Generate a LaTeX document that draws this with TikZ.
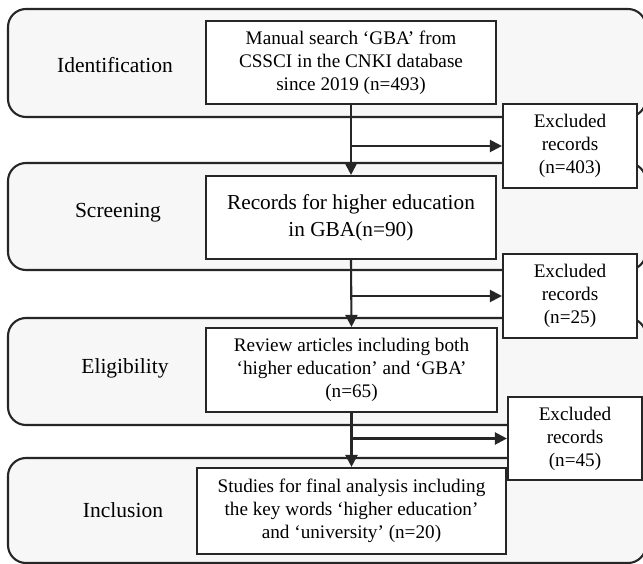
\documentclass[tikz,border=0pt]{standalone}
\usepackage{fontspec}
\setmainfont{Liberation Serif}
\usetikzlibrary{arrows.meta}
\begin{document}
\begin{tikzpicture}[x=1pt,y=-1pt,
  band/.style={draw=black!85, line width=2.1pt, rounded corners=18pt, fill=black!3},
  stepbox/.style={draw=black!85, line width=2.1pt, fill=white, align=center, inner sep=0pt, font=\fontsize{19.2}{23}\selectfont},
  bigbox/.style={stepbox, font=\fontsize{21.3}{27}\selectfont},
  lbl/.style={font=\fontsize{21.5}{26}\selectfont, inner sep=0pt},
  arr/.style={draw=black!85, line width=2.1pt, -{Triangle[length=12pt,width=12pt]}}]
\useasboundingbox (0,0) rectangle (643,564);
\clip (0,0) rectangle (643,564);
\fill[white] (0,0) rectangle (643,564);
% bands
\draw[band] (8,9) rectangle (646,117);
\draw[band] (8,163) rectangle (646,270);
\draw[band] (8,318) rectangle (646,425);
\draw[band] (8,458) rectangle (646,563);
% stage labels
\node[lbl] (l1) at (115,65) {Identification};
\node[lbl] (l2) at (118,213) {Screening};
\node[lbl] (l3) at (125,368) {Eligibility};
\node[lbl] (l4) at (123,510) {Inclusion};
% main boxes
\node[stepbox, minimum width=290pt, minimum height=83pt] (b1) at (351,62.5)
  {Manual search ‘GBA’ from\\CSSCI in the CNKI database\\since 2019 (n=493)};
\node[bigbox, minimum width=290pt, minimum height=83pt] (b2) at (351,217.5)
  {Records for higher education\\in GBA(n=90)};
\node[stepbox, minimum width=291pt, minimum height=84pt] (b3) at (351.5,370)
  {Review articles including both\\‘higher education’ and ‘GBA’\\(n=65)};
\node[stepbox, minimum width=309pt, minimum height=86pt] (b4) at (351.5,511)
  {Studies for final analysis including\\the key words ‘higher education’\\and ‘university’ (n=20)};
% excluded boxes
\node[stepbox, minimum width=134pt, minimum height=84pt] (e1) at (570,146)
  {Excluded\\records\\(n=403)};
\node[stepbox, minimum width=134pt, minimum height=84pt] (e2) at (570,296)
  {Excluded\\records\\(n=25)};
\node[stepbox, minimum width=134pt, minimum height=83pt] (e3) at (575,438.5)
  {Excluded\\records\\(n=45)};
% connectors
\draw[arr] (b1.south) -- (b2.north);
\draw[arr] (b2.south) -- (b3.north);
\draw[arr] (b3.south) -- (b4.north);
\draw[arr] (b1.south |- e1.west) -- (e1.west);
\draw[arr] (b2.south |- e2.west) -- (e2.west);
\draw[arr] (b3.south |- e3.west) -- (e3.west);
\end{tikzpicture}
\end{document}
